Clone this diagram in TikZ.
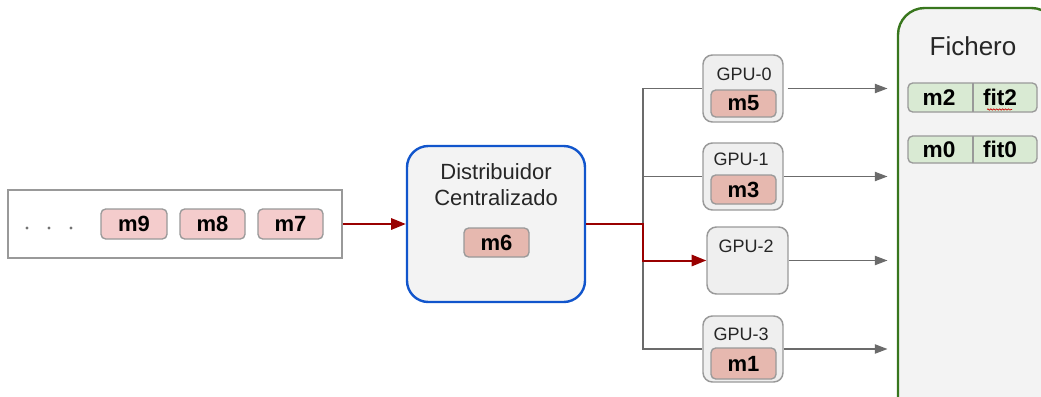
\documentclass[tikz,border=0pt]{standalone}
\usepackage{fontspec}
\setmainfont{Liberation Sans}
\usetikzlibrary{arrows.meta,decorations.pathmorphing}

\definecolor{qpink}{HTML}{F4CCCC}
\definecolor{mpink}{HTML}{E6B8AF}
\definecolor{boxgray}{HTML}{999999}
\definecolor{panel}{HTML}{F3F3F3}
\definecolor{gpufill}{HTML}{EFEFEF}
\definecolor{wire}{HTML}{6B6B6B}
\definecolor{hot}{HTML}{990000}
\definecolor{distblue}{HTML}{1155CC}
\definecolor{filegreen}{HTML}{38761D}
\definecolor{rowgreen}{HTML}{D9EAD3}

\tikzset{
  box/.style={draw, rectangle, inner sep=0pt, anchor=center},
  queue/.style={box, draw=boxgray, fill=white, line width=1pt},
  msg/.style={box, draw=boxgray, line width=1pt, rounded corners=3.5pt,
    font=\fontsize{16.5}{18}\selectfont\bfseries, text=black},
  qmsg/.style={msg, fill=qpink},
  gmsg/.style={msg, fill=mpink},
  gpu/.style={box, draw=boxgray, fill=gpufill, line width=1.1pt, rounded corners=7pt},
  gpulbl/.style={font=\fontsize{13.5}{15}\selectfont, text=black!85, inner sep=0pt},
  dist/.style={box, draw=distblue, fill=panel, line width=1.8pt, rounded corners=16pt},
  store/.style={box, draw=filegreen, fill=panel, line width=1.8pt, rounded corners=20pt},
  cell/.style={box, draw=none, fill=none, font=\fontsize{17}{19}\selectfont\bfseries},
  link/.style={draw=wire, line width=0.9pt},
  flow/.style={link, -{Triangle[length=9.5pt,width=7pt]}, shorten >=7pt},
  hotflow/.style={draw=hot, line width=1.5pt, -{Triangle[length=11pt,width=8.5pt]}},
  dot/.style={circle, fill=black!55, inner sep=0pt, minimum size=2.6pt}
}

\begin{document}
\begin{tikzpicture}[x=0.75pt, y=-0.75pt]
\useasboundingbox (0,0) rectangle (1041,396);

% incoming queue of messages
\node[queue, minimum width=334*0.75pt, minimum height=68*0.75pt] (queue) at (175,224) {};
\node[dot] (d1) at (27,228) {};
\node[dot] (d2) at (49,228) {};
\node[dot] (d3) at (71,228) {};
\node[qmsg, minimum width=66*0.75pt, minimum height=30*0.75pt] (m9) at (134,224) {m9};
\node[qmsg, minimum width=65*0.75pt, minimum height=30*0.75pt] (m8) at (212.5,224) {m8};
\node[qmsg, minimum width=65*0.75pt, minimum height=30*0.75pt] (m7) at (290.5,224) {m7};

% central distributor
\node[dist, minimum width=178*0.75pt, minimum height=156*0.75pt] (dist) at (496,224) {};
\node[font=\fontsize{16.5}{19}\selectfont, text=black!85, align=center, inner sep=0pt] (distlbl) at (496,184.5)
  {Distribuidor\\Centralizado};
\node[gmsg, minimum width=65*0.75pt, minimum height=29*0.75pt] (m6) at (496.5,242.5) {m6};

% GPU workers
\node[gpu, minimum width=80*0.75pt, minimum height=67*0.75pt] (gpu0) at (743,88.5) {};
\node[gpulbl] (g0lbl) at (744,74) {GPU-0};
\node[gmsg, minimum width=65*0.75pt, minimum height=27*0.75pt] (m5) at (743.5,103.5) {m5};

\node[gpu, minimum width=80*0.75pt, minimum height=67*0.75pt] (gpu1) at (743,176.5) {};
\node[gpulbl] (g1lbl) at (741,159) {GPU-1};
\node[gmsg, minimum width=65*0.75pt, minimum height=29*0.75pt] (m3) at (743.5,189.5) {m3};

\node[gpu, minimum width=81*0.75pt, minimum height=67*0.75pt] (gpu2) at (747.5,260.5) {};
\node[gpulbl] (g2lbl) at (746,246) {GPU-2};

\node[gpu, minimum width=80*0.75pt, minimum height=66*0.75pt] (gpu3) at (743,349) {};
\node[gpulbl] (g3lbl) at (741,334) {GPU-3};
\node[gmsg, minimum width=65*0.75pt, minimum height=31*0.75pt] (m1) at (743.5,363.5) {m1};

% output file with stored results
\node[store, minimum width=160*0.75pt, minimum height=420*0.75pt] (file) at (978,218) {};
\node[font=\fontsize{19.5}{21}\selectfont, text=black!85, inner sep=0pt] (filelbl) at (973,46) {Fichero};

\draw[draw=boxgray, fill=rowgreen, line width=1pt, rounded corners=3.5pt] (908,83) rectangle (1037,112);
\draw[draw=boxgray, line width=1pt] (973,83) -- (973,112);
\node[cell] (m2) at (939,97.5) {m2};
\node[cell] (fit2) at (1000,97.5) {fit2};
\draw[red!80!black, line width=0.5pt, decorate, decoration={snake, amplitude=0.5pt, segment length=2.2pt}]
  ([xshift=-13*0.75pt, yshift=-12*0.75pt]fit2.center) -- ([xshift=12*0.75pt, yshift=-12*0.75pt]fit2.center);

\draw[draw=boxgray, fill=rowgreen, line width=1pt, rounded corners=3.5pt] (908,136) rectangle (1037,163);
\draw[draw=boxgray, line width=1pt] (973,136) -- (973,163);
\node[cell] (m0) at (939,149.5) {m0};
\node[cell] (fit0) at (1000,149.5) {fit0};

% fan-out wiring
\coordinate (junc) at (643,224);
\draw[link] (gpu0.west) -| (junc);
\draw[link] (gpu1.west) -| (junc);
\draw[link] (gpu3.west) -| (junc);

\draw[hotflow] (queue.east) -- (dist.west);
\draw[hotflow] (dist.east) -- (junc) |- (gpu2.west);

% results written to the file
\draw[flow] ([xshift=3pt]gpu0.east) -- (gpu0.east -| file.west);
\draw[flow] (gpu1.east) -- (gpu1.east -| file.west);
\draw[flow] (gpu2.east) -- (gpu2.east -| file.west);
\draw[flow] (gpu3.east) -- (gpu3.east -| file.west);
\end{tikzpicture}
\end{document}
